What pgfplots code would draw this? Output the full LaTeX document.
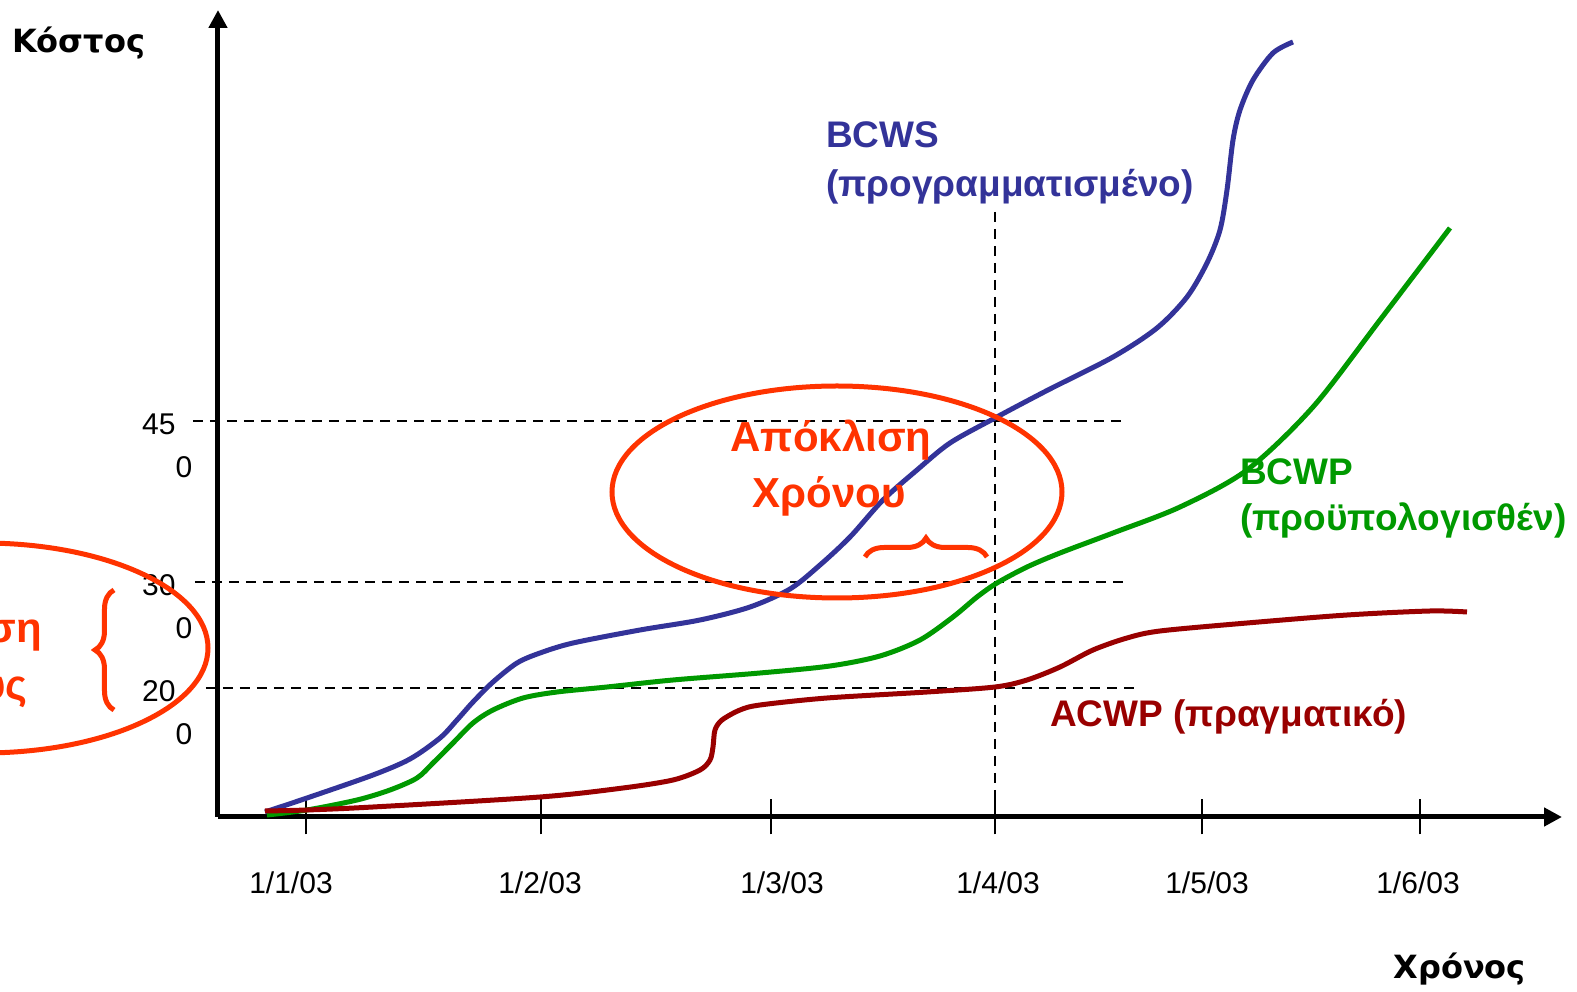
\documentclass[border=0pt]{standalone}
\usepackage{fontspec}
\setmainfont{Liberation Sans}
\newfontfamily\dvs{DejaVu Sans}
\usepackage{pgfplots}
\pgfplotsset{compat=1.18}
\usetikzlibrary{arrows.meta,decorations.pathreplacing}

\definecolor{bcws}{HTML}{333399}
\definecolor{bcwp}{HTML}{009900}
\definecolor{acwp}{HTML}{990000}
\definecolor{hl}{HTML}{FF3300}

% y labels are split over two lines in the original
\newcommand\yl[1]{\begin{tabular}[t]{@{}r@{}}#1\phantom{0}\\0\end{tabular}}

\begin{document}
\begin{tikzpicture}
\begin{axis}[
    x=1pt, y=1pt,
    xmin=218, xmax=1562, ymin=175, ymax=982,
    axis lines=left,
    clip=false,
    axis line style={line width=5pt},
    every outer x axis line/.append style={-{Triangle[length=18pt,width=18pt]}},
    every outer y axis line/.append style={-{Triangle[length=18pt,width=18pt]}},
    tick align=center,
    major tick length=35pt,
    xtick={306,541,771,995,1202,1420},
    xticklabels={},
    xtick style={line width=2.5pt, black},
    extra x ticks={291,540,782,998,1207,1418},
    extra x tick labels={1/1/03,1/2/03,1/3/03,1/4/03,1/5/03,1/6/03},
    extra x tick style={major tick length=0pt, xticklabel style={anchor=base, yshift=-77pt}},
    ytick={571,410,304},
    yticklabels={{\yl{45}},{\yl{30}},{\yl{20}}},
    ytick style={draw=none},
    yticklabel style={anchor=base east, inner sep=0pt, xshift=-8pt, yshift=-14pt},
    ticklabel style={font=\fontsize{30}{43}\selectfont},
    /pgf/number format/assume math mode=true,
]
\path (axis cs:0,0) rectangle (axis cs:1577,992);

% reference lines
\addplot[black, line width=2pt, dash pattern=on 10pt off 7pt] coordinates {(193,571) (1127,571)};
\addplot[black, line width=2pt, dash pattern=on 10pt off 7pt] coordinates {(195,410) (1128,410)};
\addplot[black, line width=2pt, dash pattern=on 10pt off 7pt] coordinates {(206,304) (1140,304)};
\addplot[black, line width=2pt, dash pattern=on 10pt off 7pt] coordinates {(995,780) (995,155)};

% BCWS
\addplot[bcws, line width=5pt, smooth] coordinates {
(265,180) (307,194) (373,217) (410,233) (440,254) (457,272) (473,290)
(493,310) (517,329) (540,339) (573,349) (640,362) (700,372) (750,385)
(790,403) (820,427) (850,455) (883,492) (917,522) (950,549) (995,574)
(1048,602) (1113,635) (1157,664) (1187,695) (1207,729) (1220,762)
(1227,802) (1233,852) (1240,882) (1253,912) (1273,939) (1293,950)
};
% BCWP
\addplot[bcwp, line width=5pt, smooth] coordinates {
(267,177) (307,182) (357,192) (390,202) (417,214) (433,229) (453,249)
(473,269) (493,282) (523,294) (557,300) (607,305) (673,312) (760,319)
(830,326) (880,336) (920,352) (953,375) (977,395) (997,409) (1027,425)
(1060,439) (1113,459) (1180,485) (1247,522) (1313,585) (1380,672) (1450,764)
};
% ACWP
\addplot[acwp, line width=5pt, smooth] coordinates {
(265,181) (307,182) (373,185) (540,195) (623,204) (673,212) (700,222)
(710,232) (713,245) (715,262) (722,272) (740,282) (760,287) (827,294)
(927,300) (995,305) (1027,312) (1060,325) (1093,342) (1127,354)
(1160,361) (1247,369) (1347,377) (1430,381) (1467,380)
};

% highlights
\draw[hl, line width=5pt] (axis cs:837,500) ellipse [x radius=225pt, y radius=106pt];
\draw[hl, line width=5pt, decorate, decoration={brace, amplitude=19pt}]
  (axis cs:865,435) -- (axis cs:987,435);
\draw[hl, line width=5pt, overlay] (axis cs:-17,344) ellipse [x radius=225pt, y radius=105pt];
\draw[hl, line width=5pt, decorate, decoration={brace, amplitude=19pt}]
  (axis cs:114,282) -- (axis cs:114,402);

\node[hl, anchor=base, font=\fontsize{42}{50}\selectfont\bfseries] at (axis cs:831,540) {Απόκλιση};
\node[hl, anchor=base, font=\fontsize{42}{50}\selectfont\bfseries] at (axis cs:829,484) {Χρόνου};
\node[hl, anchor=base east, inner sep=0pt, overlay, font=\fontsize{42}{50}\selectfont\bfseries] at (axis cs:42,349) {Απόκλιση};
\node[hl, anchor=base east, inner sep=0pt, overlay, font=\fontsize{42}{50}\selectfont\bfseries] at (axis cs:28,292) {Κόστους};

% series labels
\node[bcws, anchor=base west, inner sep=0pt, font=\fontsize{37}{44}\selectfont\bfseries] at (axis cs:826,844) {BCWS};
\node[bcws, anchor=base west, inner sep=0pt, font=\fontsize{37}{44}\selectfont\bfseries] at (axis cs:826,795) {(προγραμματισμένο)};
\node[bcwp, anchor=base west, inner sep=0pt, font=\fontsize{37}{44}\selectfont\bfseries] at (axis cs:1240,507) {BCWP};
\node[bcwp, anchor=base west, inner sep=0pt, font=\fontsize{37}{44}\selectfont\bfseries] at (axis cs:1240,461) {(προϋπολογισθέν)};
\node[acwp, anchor=base west, inner sep=0pt, font=\fontsize{37}{44}\selectfont\bfseries] at (axis cs:1050,265) {ACWP (πραγματικό)};

% axis titles
\node[anchor=base west, inner sep=0pt, font=\fontsize{32}{38}\selectfont\dvs\bfseries] at (axis cs:12,939) {Κόστος};
\node[anchor=base east, inner sep=0pt, font=\fontsize{32}{38}\selectfont\dvs\bfseries] at (axis cs:1526,13) {Χρόνος};
\end{axis}
\end{tikzpicture}
\end{document}
